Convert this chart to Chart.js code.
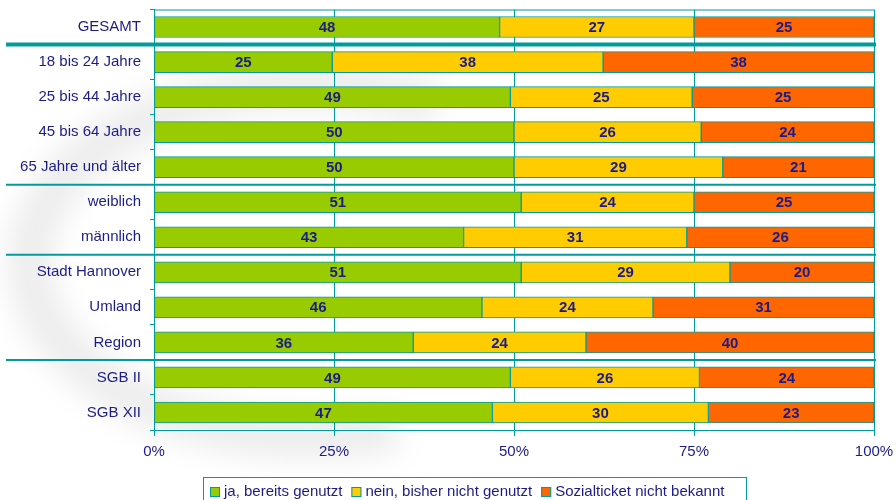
<!DOCTYPE html>
<html lang="de">
<head>
  <meta charset="UTF-8" />
  <title>Sozialticket Nutzung</title>
  <script src="https://cdn.jsdelivr.net/npm/chart.js"></script>
  <style>
    html, body { margin: 0; padding: 0; background: #fff; }
    #wrap { width: 896px; height: 500px; }
  </style>
</head>
<body>
<div id="wrap"><canvas id="chart" width="896" height="500"></canvas></div>
<script>
const categories = ['GESAMT', '18 bis 24 Jahre', '25 bis 44 Jahre', '45 bis 64 Jahre', '65 Jahre und älter',
  'weiblich', 'männlich', 'Stadt Hannover', 'Umland', 'Region', 'SGB II', 'SGB XII'];
const seriesNames = ['ja, bereits genutzt', 'nein, bisher nicht genutzt', 'Sozialticket nicht bekannt'];
const genutzt     = [48, 25, 49, 50, 50, 51, 43, 51, 46, 36, 49, 47];
const nichtGenutzt = [27, 38, 25, 26, 29, 24, 31, 29, 24, 24, 26, 30];
const unbekannt   = [25, 38, 25, 24, 21, 25, 26, 20, 31, 40, 24, 23];
const xTicks = [0, 25, 50, 75, 100];
// group separators after these category indexes (first one is thick)
const separators = [0, 4, 6, 9];

const TEAL = '#009c9c';
const NAVY = '#1c1c86';
const colors = ['#99cc00', '#ffcc00', '#ff6600'];
const raw = [genutzt, nichtGenutzt, unbekannt];

// 100% stacked: each row scaled to its sum
const sums = categories.map((c, i) => genutzt[i] + nichtGenutzt[i] + unbekannt[i]);
const pct = raw.map(arr => arr.map((v, i) => v / sums[i] * 100));

function noPad(s) {
  s.paddingTop = 0; s.paddingBottom = 0; s.paddingLeft = 0; s.paddingRight = 0;
}

const decor = {
  id: 'decor',
  beforeDraw(chart) {
    // faint grey swoosh in the background
    const ctx = chart.ctx;
    ctx.save();
    ctx.filter = 'blur(14px)';
    ctx.strokeStyle = 'rgba(0,0,0,0.07)';
    ctx.lineWidth = 45;
    ctx.beginPath();
    ctx.ellipse(310, 262, 280, 175, 0, Math.PI * 0.4, Math.PI * 1.65);
    ctx.stroke();
    ctx.restore();
  },
  afterDatasetsDraw(chart) {
    const ctx = chart.ctx;
    const a = chart.chartArea;
    const y = chart.scales.y;
    ctx.save();
    // frame top
    ctx.strokeStyle = TEAL;
    ctx.lineWidth = 1;
    ctx.beginPath();
    ctx.moveTo(a.left, a.top + 0.5);
    ctx.lineTo(a.right, a.top + 0.5);
    ctx.stroke();
    // group separators
    const step = (a.bottom - a.top) / categories.length;
    separators.forEach((idx, k) => {
      const yy = y.getPixelForValue(idx) + step / 2;
      ctx.lineWidth = k === 0 ? 4 : 2;
      ctx.beginPath();
      ctx.moveTo(6, yy);
      ctx.lineTo(a.right + 2, yy);
      ctx.stroke();
    });
    // value labels
    ctx.fillStyle = NAVY;
    ctx.font = 'bold 15px "Liberation Sans", Arial, sans-serif';
    ctx.textAlign = 'center';
    ctx.textBaseline = 'middle';
    chart.data.datasets.forEach((ds, di) => {
      chart.getDatasetMeta(di).data.forEach((bar, i) => {
        const cx = (bar.x + bar.base) / 2;
        ctx.fillText(String(raw[di][i]), cx, bar.y + 1);
      });
    });
    ctx.restore();
  },
  afterDraw(chart) {
    const ctx = chart.ctx;
    ctx.save();
    ctx.font = '15px "Liberation Sans", Arial, sans-serif';
    ctx.textBaseline = 'middle';
    ctx.textAlign = 'left';
    ctx.strokeStyle = TEAL;
    ctx.lineWidth = 1;
    ctx.strokeRect(203.5, 477.5, 543, 30);
    let x = 210;
    const cy = 492;
    seriesNames.forEach((name, i) => {
      ctx.fillStyle = colors[i];
      ctx.fillRect(x, cy - 5, 10, 10);
      ctx.strokeRect(x + 0.5, cy - 4.5, 9, 9);
      ctx.fillStyle = NAVY;
      ctx.fillText(name, x + 14, cy);
      x += 14 + ctx.measureText(name).width + 9;
    });
    ctx.restore();
  }
};

new Chart(document.getElementById('chart'), {
  type: 'bar',
  data: {
    labels: categories,
    datasets: seriesNames.map((name, i) => ({
      label: name,
      data: pct[i],
      backgroundColor: colors[i],
      borderColor: TEAL,
      borderWidth: 1,
      borderSkipped: false,
      barThickness: 21
    }))
  },
  options: {
    indexAxis: 'y',
    responsive: false,
    animation: false,
    layout: { padding: { top: 9.5, right: 22, left: 0, bottom: 0 } },
    plugins: { legend: { display: false }, tooltip: { enabled: false } },
    scales: {
      x: {
        stacked: true,
        min: 0, max: 100,
        afterBuildTicks: s => { s.ticks = xTicks.map(v => ({ value: v })); },
        afterFit: s => { s.height = 70; noPad(s); },
        grid: { color: TEAL, lineWidth: 1, tickLength: 6 },
        border: { color: TEAL, width: 1 },
        ticks: {
          color: NAVY, padding: 7,
          font: { size: 15, family: '"Liberation Sans", Arial, sans-serif' },
          callback: v => v + '%'
        }
      },
      y: {
        stacked: true,
        afterFit: s => { s.width = 154; noPad(s); },
        grid: { drawOnChartArea: false, offset: true, color: TEAL, tickLength: 4 },
        border: { color: TEAL, width: 1 },
        ticks: {
          color: NAVY, padding: 9,
          font: { size: 15, family: '"Liberation Sans", Arial, sans-serif' }
        }
      }
    }
  },
  plugins: [decor]
});
</script>
</body>
</html>
